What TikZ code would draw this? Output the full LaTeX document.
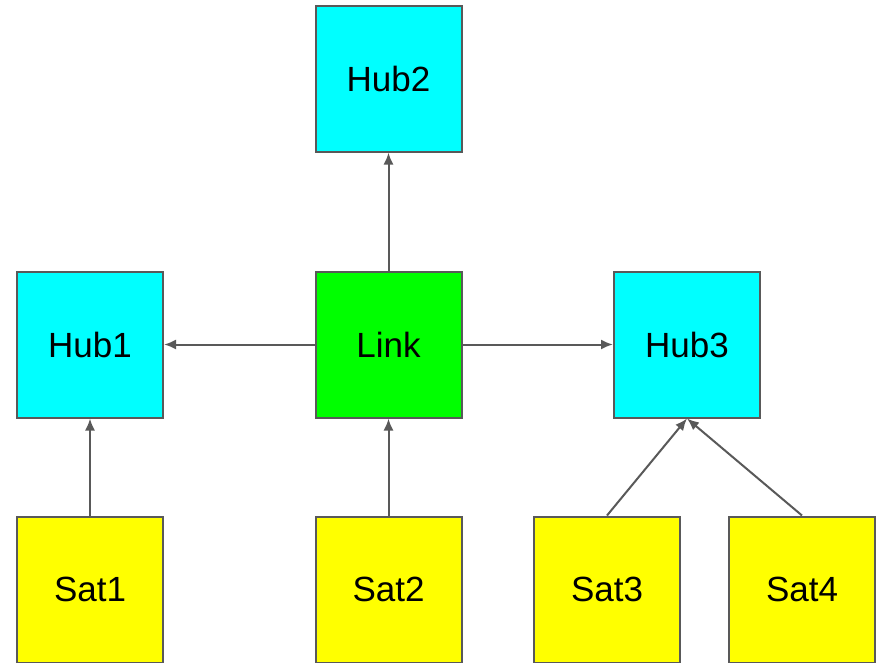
\documentclass[tikz,border=0pt]{standalone}
\usepackage{fontspec}
\setmainfont{Liberation Sans}
\usetikzlibrary{arrows.meta}
\definecolor{edgegray}{HTML}{595959}
\definecolor{hubcyan}{HTML}{00FFFF}
\definecolor{linkgreen}{HTML}{00FF00}
\definecolor{satyellow}{HTML}{FFFF00}
\tikzset{
  box/.style={draw=edgegray, line width=2pt, minimum width=146pt, minimum height=146pt,
    inner sep=0pt, font=\fontsize{35}{40}\selectfont},
  hub/.style={box, fill=hubcyan},
  linkbox/.style={box, fill=linkgreen},
  sat/.style={box, fill=satyellow},
  conn/.style={draw=edgegray, line width=2pt, -{Latex[length=12pt,width=10pt]}}
}
\begin{document}
\begin{tikzpicture}[x=1pt,y=-1pt]
\useasboundingbox (0,0) rectangle (876,662);
\node[hub] (hub2) at (388.5,78.5) {Hub2};
\node[hub] (hub1) at (90,344.5) {Hub1};
\node[linkbox] (link) at (388.5,344.5) {Link};
\node[hub] (hub3) at (687,344.5) {Hub3};
\node[sat] (sat1) at (90,589.5) {Sat1};
\node[sat] (sat2) at (388.5,589.5) {Sat2};
\node[sat] (sat3) at (607,589.5) {Sat3};
\node[sat] (sat4) at (802,589.5) {Sat4};
\draw[conn] (link.north) -- (hub2.south);
\draw[conn] (link.west) -- (hub1.east);
\draw[conn] (link.east) -- (hub3.west);
\draw[conn] (sat1.north) -- (hub1.south);
\draw[conn] (sat2.north) -- (link.south);
\draw[conn] (sat3.north) -- (hub3.south);
\draw[conn] (sat4.north) -- (hub3.south);
\end{tikzpicture}
\end{document}
